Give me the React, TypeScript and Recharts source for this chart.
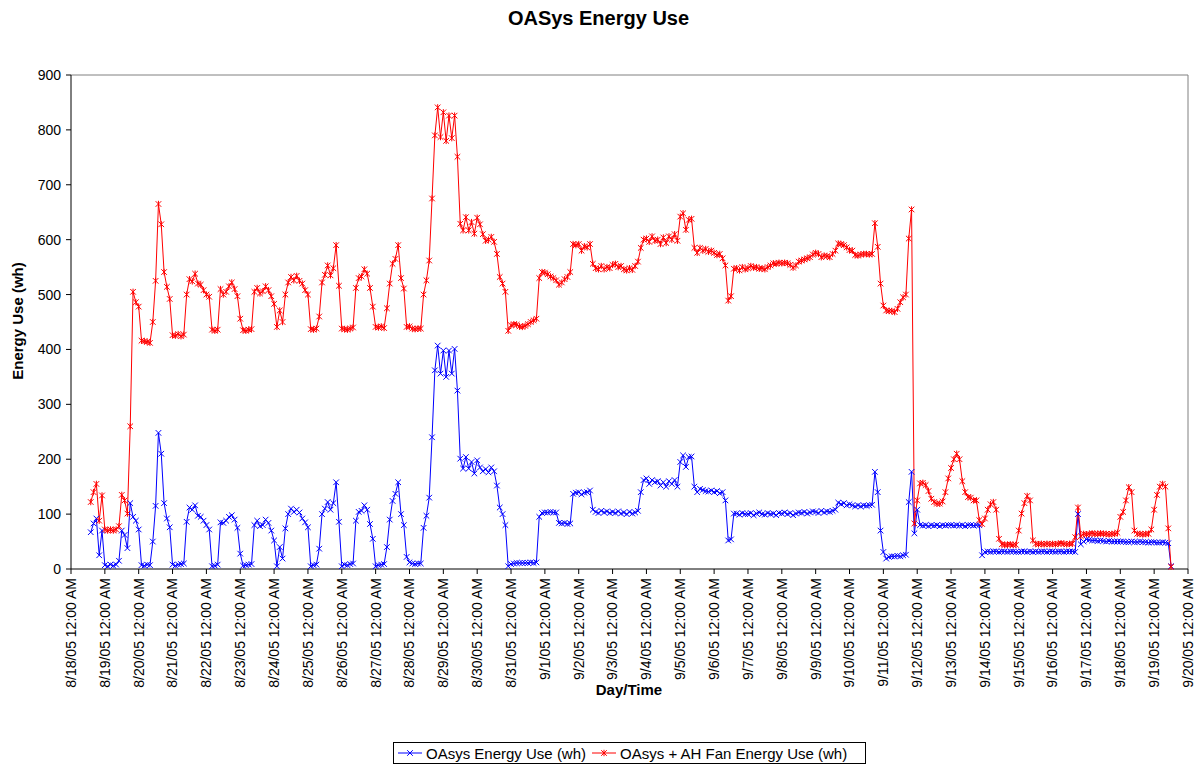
import React from 'react';
import { LineChart, Line, XAxis, YAxis, ReferenceLine } from 'recharts';

// Time axis: hours since 8/18/05 12:00 AM; readings every 2 hours starting 8/18 2:00 PM
const START_HOUR = 14;
const STEP_HOURS = 2;

const xTickLabels = [
  '8/18/05 12:00 AM', '8/19/05 12:00 AM', '8/20/05 12:00 AM', '8/21/05 12:00 AM', '8/22/05 12:00 AM',
  '8/23/05 12:00 AM', '8/24/05 12:00 AM', '8/25/05 12:00 AM', '8/26/05 12:00 AM', '8/27/05 12:00 AM',
  '8/28/05 12:00 AM', '8/29/05 12:00 AM', '8/30/05 12:00 AM', '8/31/05 12:00 AM', '9/1/05 12:00 AM',
  '9/2/05 12:00 AM', '9/3/05 12:00 AM', '9/4/05 12:00 AM', '9/5/05 12:00 AM', '9/6/05 12:00 AM',
  '9/7/05 12:00 AM', '9/8/05 12:00 AM', '9/9/05 12:00 AM', '9/10/05 12:00 AM', '9/11/05 12:00 AM',
  '9/12/05 12:00 AM', '9/13/05 12:00 AM', '9/14/05 12:00 AM', '9/15/05 12:00 AM', '9/16/05 12:00 AM',
  '9/17/05 12:00 AM', '9/18/05 12:00 AM', '9/19/05 12:00 AM', '9/20/05 12:00 AM',
];

const yTicks = [0, 100, 200, 300, 400, 500, 600, 700, 800, 900];

// OAsys Energy Use (wh)
const oasys = [
  67, 83, 92, 25, 70, // 8/18
  7, 5, 8, 6, 8, 15, 70, 62, 38, 120, 95, 88, // 8/19
  72, 7, 6, 8, 7, 50, 115, 248, 210, 120, 92, 76, // 8/20
  8, 6, 8, 9, 10, 86, 112, 108, 116, 97, 95, 88, // 8/21
  80, 72, 5, 6, 8, 85, 84, 88, 95, 98, 90, 75, // 8/22
  28, 6, 7, 8, 9, 80, 88, 78, 80, 90, 84, 70, // 8/23
  52, 5, 40, 19, 74, 100, 110, 104, 108, 103, 92, 85, // 8/24
  76, 5, 7, 8, 37, 100, 110, 122, 108, 120, 158, 86, // 8/25
  5, 8, 7, 9, 10, 88, 104, 106, 116, 108, 82, 55, // 8/26
  5, 7, 8, 9, 40, 90, 124, 137, 158, 100, 80, 22, // 8/27
  12, 10, 9, 10, 10, 75, 97, 130, 240, 362, 407, 356, // 8/28
  398, 350, 398, 356, 401, 325, 201, 183, 204, 183, 195, 174, // 8/29
  198, 185, 178, 182, 176, 185, 178, 152, 112, 100, 80, 5, // 8/30
  9, 10, 11, 11, 11, 11, 11, 12, 11, 12, 95, 102, // 8/31
  103, 103, 104, 103, 103, 84, 83, 84, 82, 83, 137, 139, // 9/1
  140, 136, 139, 140, 143, 108, 104, 102, 106, 103, 105, 102, // 9/2
  104, 102, 105, 101, 103, 100, 104, 101, 103, 106, 140, 162, // 9/3
  165, 155, 162, 158, 160, 152, 158, 150, 160, 155, 162, 150, // 9/4
  195, 207, 186, 204, 205, 150, 140, 146, 144, 142, 141, 143, // 9/5
  140, 142, 138, 140, 125, 52, 54, 101, 101, 99, 102, 100, // 9/6
  100, 102, 98, 101, 103, 100, 99, 102, 100, 101, 98, 102, // 9/7
  101, 103, 100, 102, 98, 101, 103, 102, 104, 101, 103, 105, // 9/8
  104, 102, 106, 103, 105, 104, 106, 108, 121, 118, 120, 116, // 9/9
  118, 116, 114, 116, 114, 116, 115, 116, 117, 177, 140, 70, // 9/10
  31, 19, 22, 23, 23, 24, 23, 25, 26, 122, 177, 65, // 9/11
  108, 80, 79, 80, 78, 80, 79, 80, 78, 80, 79, 80, // 9/12
  80, 79, 80, 79, 80, 78, 80, 80, 79, 80, 80, 25, // 9/13
  31, 32, 31, 32, 32, 31, 32, 32, 31, 32, 32, 31, // 9/14
  31, 32, 32, 31, 32, 31, 32, 31, 32, 32, 31, 32, // 9/15
  32, 31, 32, 32, 31, 32, 32, 32, 31, 100, 45, 50, // 9/16
  54, 53, 52, 52, 51, 52, 51, 50, 51, 50, 50, 50, // 9/17
  50, 50, 49, 49, 50, 49, 49, 50, 49, 49, 48, 49, // 9/18
  49, 48, 48, 49, 48, 47, 5, // 9/19
];

// OAsys + AH Fan Energy Use (wh)
const oasysFan = [
  122, 140, 155, 88, 134, // 8/18
  72, 70, 72, 70, 72, 78, 135, 125, 101, 260, 505, 486, // 8/19
  478, 416, 415, 414, 412, 450, 525, 665, 628, 541, 514, 492, // 8/20
  426, 425, 428, 424, 427, 500, 528, 524, 538, 520, 518, 508, // 8/21
  500, 496, 436, 434, 436, 510, 500, 505, 515, 522, 510, 497, // 8/22
  456, 435, 434, 436, 437, 505, 512, 502, 506, 515, 508, 497, // 8/23
  483, 441, 471, 450, 500, 522, 532, 526, 534, 525, 520, 508, // 8/24
  500, 437, 436, 438, 460, 522, 536, 553, 535, 548, 590, 516, // 8/25
  438, 437, 436, 438, 440, 512, 530, 533, 546, 538, 512, 478, // 8/26
  441, 440, 442, 439, 475, 520, 556, 565, 590, 530, 511, 441, // 8/27
  442, 438, 437, 438, 438, 500, 526, 562, 675, 790, 841, 787, // 8/28
  832, 780, 826, 785, 826, 751, 629, 617, 641, 617, 632, 611, // 8/29
  640, 628, 610, 598, 600, 605, 596, 574, 532, 520, 505, 434, // 8/30
  444, 446, 445, 442, 441, 443, 446, 450, 453, 456, 530, 541, // 8/31
  540, 537, 533, 530, 526, 518, 522, 528, 532, 541, 592, 590, // 9/1
  592, 580, 588, 586, 592, 556, 548, 546, 552, 546, 550, 548, // 9/2
  554, 556, 550, 552, 546, 544, 548, 545, 552, 560, 585, 600, // 9/3
  602, 596, 606, 598, 600, 592, 604, 594, 606, 600, 610, 598, // 9/4
  642, 648, 618, 636, 638, 585, 576, 585, 580, 583, 578, 580, // 9/5
  576, 572, 574, 566, 553, 489, 497, 547, 548, 544, 550, 546, // 9/6
  548, 552, 549, 550, 547, 548, 546, 550, 553, 557, 556, 558, // 9/7
  557, 558, 557, 554, 549, 553, 560, 562, 564, 566, 568, 573, // 9/8
  576, 574, 568, 571, 570, 568, 574, 580, 593, 592, 590, 586, // 9/9
  581, 580, 572, 571, 573, 574, 574, 573, 574, 630, 587, 520, // 9/10
  480, 471, 470, 470, 468, 474, 486, 495, 500, 602, 655, 83, // 9/11
  125, 156, 157, 153, 142, 128, 122, 119, 119, 123, 140, 165, // 9/12
  184, 200, 210, 200, 160, 140, 131, 130, 125, 125, 89, 82, // 9/13
  92, 108, 118, 122, 108, 55, 45, 44, 44, 45, 44, 44, // 9/14
  70, 101, 120, 133, 125, 52, 46, 45, 46, 45, 46, 45, // 9/15
  46, 45, 46, 47, 46, 45, 46, 46, 58, 112, 60, 64, // 9/16
  63, 64, 65, 64, 64, 65, 64, 64, 63, 64, 64, 66, // 9/17
  95, 104, 125, 149, 140, 70, 64, 64, 63, 64, 64, 72, // 9/18
  108, 135, 150, 155, 150, 74, 4, // 9/19
];

const data = oasys.map((v, i) => ({
  t: START_HOUR + i * STEP_HOURS,
  oasys: v,
  fan: oasysFan[i],
}));

const xTicks = xTickLabels.map((_, i) => i * 24);

const FONT = '"Liberation Sans", Arial, sans-serif';
const BLUE = '#0000FF';
const RED = '#FF0000';

const crossPath = (cx: number, cy: number, s: number) =>
  `M${cx - s},${cy - s}L${cx + s},${cy + s}M${cx + s},${cy - s}L${cx - s},${cy + s}`;

const BlueDot = (props: any) => {
  const { cx, cy, index } = props;
  if (cx == null || cy == null) return <g key={`b-${index}`} />;
  return <path key={`b-${index}`} d={crossPath(cx, cy, 2.8)} stroke={BLUE} strokeWidth={1} fill="none" />;
};

const RedDot = (props: any) => {
  const { cx, cy, index } = props;
  if (cx == null || cy == null) return <g key={`r-${index}`} />;
  return (
    <path
      key={`r-${index}`}
      d={`${crossPath(cx, cy, 2.8)}M${cx},${cy - 3.2}L${cx},${cy + 3.2}`}
      stroke={RED}
      strokeWidth={1}
      fill="none"
    />
  );
};

const XTick = (props: any) => {
  const { x, y, payload } = props;
  const label = xTickLabels[Math.round(payload.value / 24)];
  const ty = y + 2;
  return (
    <text
      x={x}
      y={ty}
      transform={`rotate(-90 ${x} ${ty})`}
      textAnchor="end"
      dy="0.35em"
      fontSize={14}
      fontFamily={FONT}
      fill="#000"
    >
      {label}
    </text>
  );
};

const LegendSample = ({ color, star }: { color: string; star: boolean }) => (
  <svg width={24} height={12} style={{ display: 'block' }}>
    <line x1={0} y1={6} x2={24} y2={6} stroke={color} strokeWidth={1} />
    <path
      d={`${crossPath(12, 6, 2.8)}${star ? 'M12,2.8L12,9.2' : ''}`}
      stroke={color}
      strokeWidth={1}
      fill="none"
    />
  </svg>
);

export default function App() {
  return (
    <div style={{ position: 'absolute', left: 0, top: 0, width: 1197, height: 765, background: '#fff', fontFamily: FONT }}>
      <div
        style={{
          position: 'absolute', left: 0, top: 6, width: 1197, textAlign: 'center',
          fontSize: 20, fontWeight: 'bold', lineHeight: '24px', color: '#000',
        }}
      >
        OASys Energy Use
      </div>
      <div
        style={{
          position: 'absolute', left: 18 - 100, top: 321 - 10, width: 200, height: 20, lineHeight: '20px',
          textAlign: 'center', transform: 'rotate(-90deg)', fontSize: 15, fontWeight: 'bold', color: '#000',
        }}
      >
        Energy Use (wh)
      </div>
      <div
        style={{
          position: 'absolute', left: 529, top: 680, width: 200, textAlign: 'center',
          fontSize: 15, fontWeight: 'bold', lineHeight: '20px', color: '#000',
        }}
      >
        Day/Time
      </div>
      <LineChart
        width={1197}
        height={765}
        data={data}
        margin={{ top: 75, right: 9, left: 0, bottom: 0 }}
      >
        <XAxis
          dataKey="t"
          type="number"
          domain={[0, 792]}
          ticks={xTicks}
          interval={0}
          height={196}
          tick={<XTick />}
          tickSize={5}
          tickMargin={2}
          stroke="#000"
          allowDataOverflow
        />
        <YAxis
          type="number"
          domain={[0, 900]}
          ticks={yTicks}
          interval={0}
          width={71}
          tickSize={5}
          tickMargin={5}
          stroke="#000"
          tick={{ fontSize: 14, fontFamily: FONT, fill: '#000' }}
        />
        <ReferenceLine y={900} stroke="#808080" strokeWidth={1} />
        <ReferenceLine x={792} stroke="#808080" strokeWidth={1} />
        <Line
          type="linear"
          dataKey="oasys"
          stroke={BLUE}
          strokeWidth={1}
          dot={<BlueDot />}
          activeDot={false}
          isAnimationActive={false}
        />
        <Line
          type="linear"
          dataKey="fan"
          stroke={RED}
          strokeWidth={1}
          dot={<RedDot />}
          activeDot={false}
          isAnimationActive={false}
        />
      </LineChart>
      <div
        style={{
          position: 'absolute', left: 393, top: 742, width: 471, height: 20,
          border: '1px solid #000', display: 'flex', alignItems: 'center',
          fontSize: 15, color: '#000', whiteSpace: 'nowrap',
        }}
      >
        <div style={{ marginLeft: 4 }}><LegendSample color={BLUE} star={false} /></div>
        <span style={{ marginLeft: 4 }}>OAsys Energy Use (wh)</span>
        <div style={{ marginLeft: 6 }}><LegendSample color={RED} star={true} /></div>
        <span style={{ marginLeft: 4 }}>OAsys + AH Fan Energy Use (wh)</span>
      </div>
    </div>
  );
}
